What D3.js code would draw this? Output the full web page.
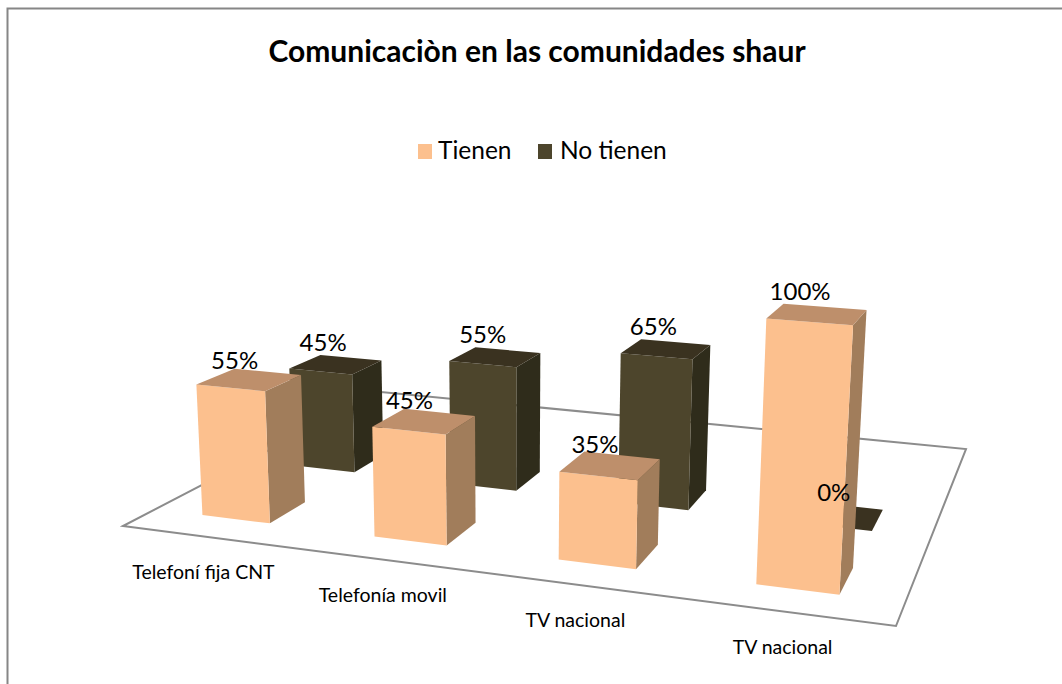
<!DOCTYPE html>
<html><head><meta charset="utf-8">
<style>html,body{margin:0;padding:0;background:#fff}svg{display:block}text{font-family:Lato,"Open Sans",sans-serif;fill:#000}</style>
<script src="https://cdn.jsdelivr.net/npm/d3@7"></script></head>
<body><div id="chart"></div>
<script>
const title = "Comunicaciòn en las comunidades shaur";
const categories = ["Telefoní fija CNT","Telefonía movil","TV nacional","TV nacional"];
const seriesNames = ["Tienen","No tienen"];
const tienen = [55,45,35,100];
const noTienen = [45,55,65,0];

const W=1062,H=684;
const svg=d3.select("#chart").append("svg").attr("width",W).attr("height",H);
const colors={
 "Tienen":{front:"#FCC08E",side:"#A17D5B",top:"#BE8F6B"},
 "No tienen":{front:"#4D452C",side:"#2F2C1B",top:"#3A3220"}
};
// scales on the unit floor
const uScale=d3.scaleBand().domain(d3.range(categories.length)).range([-0.004,0.998]).paddingInner(.6).paddingOuter(.3);
const dScale=d3.scaleBand().domain(seriesNames).range([0,.64]).paddingInner(.61).paddingOuter(.305);
const hScale=d3.scaleLinear().domain([0,100]).range([0,-0.0360]);
// camera: floor homography plus a vertical vanishing point
const q=[[123,526],[896,626],[966,449],[381,392]], vp=[509,7130];
const [x0,y0]=q[0],[x1,y1]=q[1],[x2,y2]=q[2],[x3,y3]=q[3];
const dx1=x1-x2,dx2=x3-x2,sx=x0-x1+x2-x3,dy1=y1-y2,dy2=y3-y2,sy=y0-y1+y2-y3;
const den=dx1*dy2-dx2*dy1, g=(sx*dy2-dx2*sy)/den, h=(dx1*sy-sx*dy1)/den;
const a=x1-x0+g*x1,b=x3-x0+h*x3,d=y1-y0+g*y1,e=y3-y0+h*y3;
function P(u,dep,v){
  const k=hScale(v), w=g*u+h*dep+1+k;
  return [(a*u+b*dep+x0+k*vp[0])/w,(d*u+e*dep+y0+k*vp[1])/w];
}
const line=pts=>"M"+pts.map(p=>p.join(",")).join("L")+"Z";

// frame
svg.append("path").attr("d",`M7.5,${H}V8.5H${W}`).attr("fill","none").attr("stroke","#868686").attr("stroke-width",2);
// floor
svg.append("path").attr("d",line([[x0,y0],[x1,y1],[x2,y2],[x3,y3]])).attr("fill","#fff").attr("stroke","#8c8c8c").attr("stroke-width",2);

const values={"Tienen":tienen,"No tienen":noTienen};
const marks=[];
["No tienen","Tienen"].forEach(s=>values[s].forEach((v,i)=>marks.push({s,v,i})));
const bars=svg.append("g").selectAll("g").data(marks).join("g");
bars.each(function(m){
  const g0=d3.select(this), u0=uScale(m.i),u1=u0+uScale.bandwidth(),d0=dScale(m.s),d1=d0+dScale.bandwidth(),c=colors[m.s];
  if(m.v>0){
    g0.append("path").attr("d",line([P(u1,d0,0),P(u1,d1,0),P(u1,d1,m.v),P(u1,d0,m.v)])).attr("fill",c.side);
    g0.append("path").attr("d",line([P(u0,d0,0),P(u1,d0,0),P(u1,d0,m.v),P(u0,d0,m.v)])).attr("fill",c.front);
  }
  g0.append("path").attr("d",line([P(u0,d0,m.v),P(u1,d0,m.v),P(u1,d1,m.v),P(u0,d1,m.v)])).attr("fill",c.top);
});
// value labels
const nudgeX=x=>(x-233)*0.03;
const labelAnchor=m=>P(uScale(m.i),dScale(m.s)+dScale.bandwidth(),m.v);
svg.append("g").selectAll("text").data(marks).join("text")
  .attr("font-size",24).attr("text-anchor","middle")
  .attr("x",m=>{const p=labelAnchor(m);return m.v===0?p[0]+23:p[0]+nudgeX(p[0]);})
  .attr("y",m=>{const p=labelAnchor(m);return m.v===0?p[1]-1:p[1]-(m.s==="Tienen"&&m.i===2?-2:m.s==="Tienen"&&m.i<2?0:4);})
  .text(m=>m.v+"%");
// category labels
svg.append("g").selectAll("text").data(categories).join("text")
  .attr("font-size",19.5).attr("text-anchor","middle")
  .attr("x",(c,i)=>P(uScale(i)+uScale.bandwidth()/2,0,0)[0]-2)
  .attr("y",(c,i)=>P(uScale(i)+uScale.bandwidth()/2,0,0)[1]+42)
  .text(c=>c);
// title
svg.append("text").attr("x",537).attr("y",62).attr("text-anchor","middle").attr("font-size",30).attr("font-weight",700).text(title);
// legend
const legX=d3.scaleOrdinal().domain(seriesNames).range([418,538]);
const legT=d3.scaleOrdinal().domain(seriesNames).range([20,22]);
const leg=svg.append("g").selectAll("g").data(seriesNames).join("g").attr("transform",s=>`translate(${legX(s)},144)`);
leg.append("rect").attr("width",14).attr("height",15).attr("fill",s=>colors[s].front);
leg.append("text").attr("x",s=>legT(s)).attr("y",15).attr("font-size",24.5).text(s=>s);
</script></body></html>
